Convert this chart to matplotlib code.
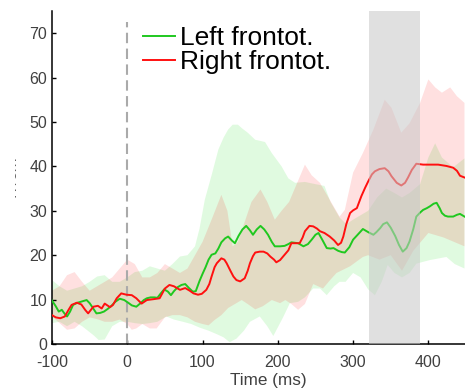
import matplotlib
matplotlib.use("agg")
import matplotlib.pyplot as plt
from matplotlib.patches import Rectangle
import numpy as np

# mean time courses (ms, fT/cm)
green_t = [-100, -95, -91, -87, -84, -80, -76, -72, -66, -60, -54, -50, -46, -41, -36,
           -31, -26, -21, -16, -10, -4, 2, 6, 12, 17, 22, 26, 31, 36, 40, 45, 49, 54,
           58, 62, 67, 72, 77, 82, 87, 91, 96, 100, 104, 108, 112, 117, 121, 125, 130,
           134, 139, 143, 148, 153, 158, 163, 167, 172, 177, 182, 187, 192, 196, 203,
           209, 214, 218, 227, 234, 240, 245, 250, 254, 259, 265, 270, 274, 280, 285,
           289, 295, 300, 306, 313, 320, 327, 331, 336, 340, 345, 350, 356, 361, 366,
           371, 375, 380, 384, 389, 393, 398, 402, 407, 411, 415, 418, 422, 426, 433,
           438, 442, 448]
green_v = [9.8, 8.5, 7.3, 7.7, 7.0, 6.2, 7.3, 8.8, 9.3, 9.6, 9.9, 9.2, 8.2, 6.9, 7.0,
           7.3, 7.9, 8.6, 9.5, 10.2, 9.9, 9.2, 8.7, 8.4, 9.1, 9.9, 10.3, 10.5, 10.5, 10.4,
           11.5, 12.3, 11.8, 11.0, 11.9, 12.8, 13.3, 13.5, 12.6, 11.8, 11.9, 14.2, 15.8,
           17.3, 19.0, 20.1, 20.4, 21.5, 22.9, 23.8, 24.2, 23.3, 22.7, 24.4, 25.8, 26.6,
           25.6, 24.6, 25.8, 26.6, 25.8, 24.6, 23.0, 22.0, 22.0, 22.1, 22.5, 22.9, 22.7,
           22.0, 22.5, 23.5, 24.6, 25.0, 23.5, 21.6, 21.5, 21.6, 21.0, 20.7, 20.6, 21.8,
           23.5, 24.6, 25.9, 25.2, 24.6, 25.2, 26.1, 27.0, 27.4, 26.2, 24.3, 22.3, 20.8,
           21.6, 23.1, 25.9, 28.7, 29.6, 30.2, 30.6, 31.0, 31.6, 31.8, 30.6, 29.5, 28.9,
           28.7, 28.7, 29.1, 29.3, 28.7]

red_t = [-100, -95, -89, -83, -78, -74, -67, -61, -56, -52, -45, -39, -34, -30, -23,
         -19, -14, -8, -1, 6, 12, 19, 26, 35, 43, 50, 56, 62, 70, 77, 83, 88, 94, 99,
         105, 109, 112, 116, 119, 125, 129, 132, 137, 141, 145, 150, 156, 160, 163, 167,
         170, 176, 181, 186, 190, 195, 198, 203, 207, 211, 214, 218, 224, 229, 233, 236,
         242, 247, 252, 256, 262, 269, 275, 280, 284, 287, 291, 296, 300, 305, 311, 316,
         320, 325, 329, 335, 342, 347, 351, 358, 364, 369, 373, 378, 384, 393, 403, 413,
         424, 433, 438, 442, 448]
red_v = [6.5, 6.0, 5.8, 6.2, 7.7, 8.8, 9.3, 8.9, 7.7, 6.9, 8.4, 8.6, 8.0, 9.1, 8.3,
         8.8, 10.3, 11.4, 11.1, 11.0, 10.3, 9.1, 9.9, 10.1, 10.3, 12.5, 13.3, 13.0,
         12.2, 12.6, 12.0, 11.4, 11.1, 11.3, 12.2, 13.5, 15.2, 17.3, 18.2, 19.3, 19.0,
         18.2, 16.5, 15.2, 14.4, 14.1, 14.8, 16.5, 18.2, 19.8, 20.6, 20.8, 20.8, 20.4,
         19.7, 19.0, 18.4, 18.9, 19.7, 20.5, 21.1, 22.7, 22.7, 22.7, 24.0, 25.4, 26.6,
         26.5, 26.0, 25.4, 25.0, 24.2, 23.3, 22.3, 22.8, 24.2, 27.0, 29.5, 30.1, 30.6,
         33.3, 35.2, 36.6, 38.2, 38.9, 39.4, 39.6, 38.9, 37.8, 36.3, 35.7, 36.3, 37.5,
         39.2, 40.6, 40.4, 40.4, 40.4, 40.1, 39.7, 39.0, 37.9, 37.5]

# confidence band edges
green_hi_t = [-100, -90, -80, -70, -60, -50, -40, -30, -20, -10, 0, 10, 20, 30, 40, 50,
              60, 70, 80, 90, 96, 103, 112, 121, 128, 134, 140, 147, 153, 160, 170, 183,
              192, 205, 214, 223, 236, 250, 262, 270, 282, 291, 300, 310, 320, 332, 344,
              355, 365, 375, 389, 400, 409, 418, 433, 448]
green_hi = [14.4, 13, 12, 12.5, 13, 14, 15.2, 15.5, 14, 14, 15, 16.2, 16.5, 17.5, 17,
            16.5, 18, 19.7, 20, 22, 26, 32.5, 38, 43.8, 46.5, 48.3, 49.4, 49.4, 48.5,
            47.6, 46, 45.5, 43, 40, 37.3, 36.3, 36.5, 36, 35.6, 32, 28.5, 27, 28, 29, 30,
            33, 35, 34, 33, 34, 36, 42, 45.2, 42, 39.8, 41.8]
green_lo_t = [-100, -90, -80, -70, -60, -54, -45, -38, -30, -20, -10, 0, 10, 20, 30, 40,
              52, 62, 74, 85, 96, 108, 119, 128, 136, 145, 155, 163, 176, 186, 194, 207,
              216, 227, 236, 247, 256, 265, 275, 282, 290, 300, 310, 320, 329, 338, 346,
              355, 365, 375, 384, 402, 424, 435, 448]
green_lo = [4.7, 5, 4, 5, 4, 3.2, 2, 0.9, 1, 4, 5, 5, 4.7, 4.5, 4.7, 5, 6.2, 5.5, 5, 4.5,
            3.7, 3, 2.2, 1.5, 0.4, 1.2, 3, 5, 6.2, 4, 1.8, 6, 9.2, 9.5, 10.5, 12.5, 12.5,
            11, 13, 14, 14, 16, 15, 12.3, 11, 14, 17.8, 16, 15, 16, 18.1, 18.9, 19.6, 18,
            17]
red_hi_t = [-100, -90, -80, -70, -60, -50, -40, -30, -20, -10, 0, 10, 20, 30, 40, 50,
            60, 70, 80, 90, 100, 112, 125, 133, 140, 147, 155, 165, 177, 186, 196, 205,
            215, 225, 236, 245, 256, 269, 282, 289, 300, 313, 327, 342, 351, 364, 375,
            389, 400, 409, 418, 429, 438, 448]
red_hi = [12, 13, 15.5, 16.2, 14, 12, 13, 14, 15, 17, 19, 18, 15, 15, 16, 18, 17, 16,
          17, 20, 23, 28, 33.6, 30, 22, 23, 27, 32, 34.8, 32, 28, 30, 32, 36, 40.4, 38,
          36.3, 32.5, 28.7, 30.2, 38.6, 43, 48.3, 55, 53.2, 47.6, 49.7, 54.3, 59.6,
          57.8, 56.6, 57.8, 55.8, 54.3]
red_lo_t = [-100, -90, -80, -70, -60, -50, -40, -30, -20, -10, 0, 6, 12, 20, 30, 39, 50,
            60, 70, 80, 90, 100, 108, 116, 125, 134, 143, 152, 160, 170, 180, 192, 203,
            210, 218, 227, 236, 247, 260, 270, 278, 296, 313, 320, 335, 350, 365, 380,
            400, 420, 448]
red_lo = [6.2, 4.7, 3.2, 3.5, 5, 6, 5.6, 5, 5, 5.5, 4.5, 3.2, 3.5, 4.5, 3.5, 3.5, 6,
          6.5, 6.5, 6, 5, 4.5, 4.2, 5.4, 6.5, 8.1, 9, 9.9, 9, 7.8, 8.5, 9.9, 9.2, 9.9, 9,
          7.7, 9, 13.5, 12.5, 14.5, 16, 17.5, 19.6, 20, 19, 20, 16.5, 21, 25, 24, 22]

window = (321, 389)
onset = 0
xticks = [-100, 0, 100, 200, 300, 400]
yticks = [0, 10, 20, 30, 40, 50, 60, 70]

plt.rcParams["font.family"] = ["Liberation Sans", "DejaVu Sans"]
plt.rcParams["axes.unicode_minus"] = False

fig = plt.figure(figsize=(4.65, 3.89), dpi=100)
ax = fig.add_axes([52 / 465, 45 / 389, 414 / 465, 333 / 389])

# shaded bands
ax.fill(np.r_[green_hi_t, green_lo_t[::-1]], np.r_[green_hi, green_lo[::-1]],
        color="#00dd00", alpha=0.12, lw=0, zorder=1)
ax.fill(np.r_[red_hi_t, red_lo_t[::-1]], np.r_[red_hi, red_lo[::-1]],
        color="#ff0000", alpha=0.12, lw=0, zorder=1)

ax.plot([onset, onset], [0, 72.5], color="#aaaaaa", lw=1.5, dashes=(5, 2.6), zorder=2)

ax.plot(green_t, green_v, color="#1fc81f", lw=1.4, label="Left frontot.", zorder=3)
ax.plot(red_t, red_v, color="#ff1010", lw=1.4, label="Right frontot.", zorder=3)

# analysis window
ax.axvspan(window[0], window[1], color="#c8c8c8", alpha=0.56, lw=0, zorder=4)

ax.set_xlim(-100, 450)
ax.set_ylim(0, 75)
ax.set_xticks(xticks)
ax.set_yticks(yticks)
ax.tick_params(direction="in", length=3, width=1, labelsize=11.5, labelcolor="#404040")
ax.tick_params(axis="x", pad=8)
for s in ["top", "right"]:
    ax.spines[s].set_visible(False)
for s in ["left", "bottom"]:
    ax.spines[s].set_linewidth(1.1)

ax.set_xlabel("Time (ms)", fontsize=12.3, color="#404040")
ax.xaxis.set_label_coords(216 / 414, -36 / 333, transform=ax.transAxes)
ax.xaxis.label.set_va("center")
ax.set_ylabel("fT/cm", fontsize=12, color="#404040")
ax.yaxis.set_label_coords(-32 / 414, 0.5)

ax.legend(loc="upper left", bbox_to_anchor=(0.22, 0.955), frameon=False,
          fontsize=19, handlelength=1.2, handletextpad=0.2, labelspacing=0,
          borderpad=0, borderaxespad=0)

# ylabel is mostly hidden in the original
fig.patches.append(Rectangle((0, 0), 13.5 / 465, 1, transform=fig.transFigure,
                             color="white", zorder=10))

fig.savefig("out.png", dpi=100)
